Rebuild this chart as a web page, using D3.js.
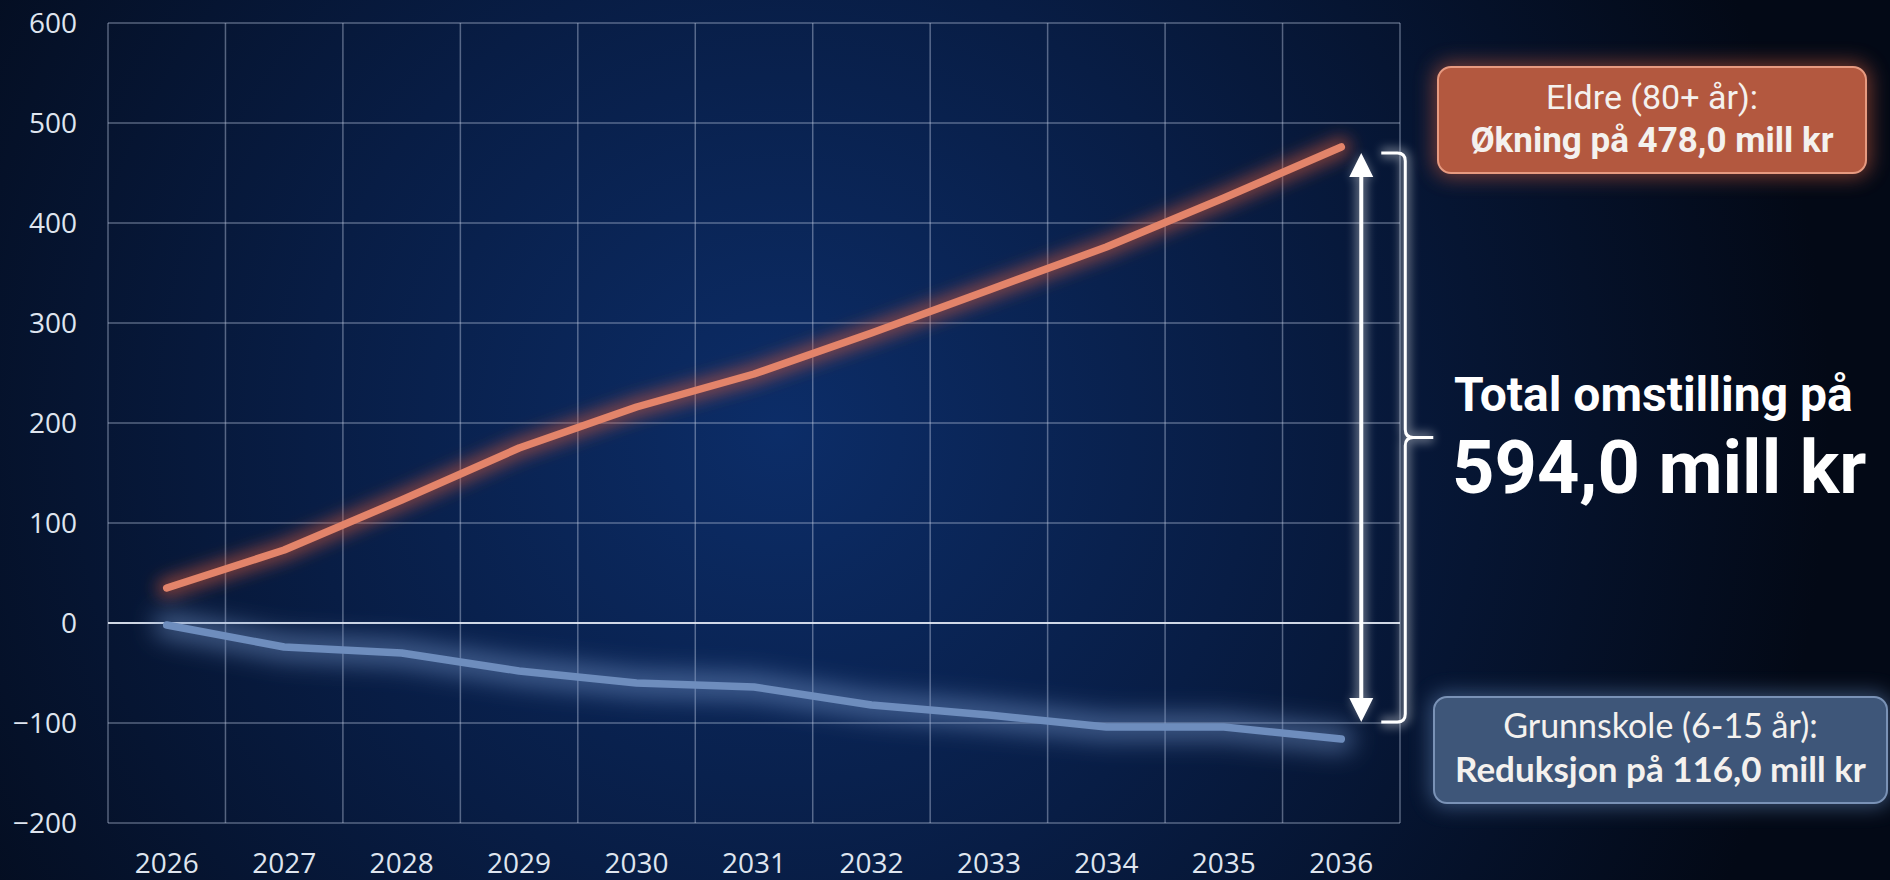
<!DOCTYPE html>
<html>
<head>
<meta charset="utf-8">
<script src="https://cdn.jsdelivr.net/npm/d3@7.9.0/dist/d3.min.js"></script>
<style>
  html, body { margin: 0; padding: 0; background: #040b1c; }
  svg { display: block; }
</style>
</head>
<body>
<svg id="chart" width="1890" height="880"></svg>
<script>
// ====== DATA ======
const years = ["2026", "2027", "2028", "2029", "2030", "2031", "2032", "2033", "2034", "2035", "2036"];
const eldre = [35, 73, 123, 175, 216, 249, 290, 333, 376, 425, 476];
const grunnskole = [-2, -24, -30, -48, -60, -64, -82, -92, -104, -104, -116];
const yTicks = [-200, -100, 0, 100, 200, 300, 400, 500, 600];

const eldreLabel = ["Eldre (80+ år):", "Økning på 478,0 mill kr"];
const grunnLabel = ["Grunnskole (6-15 år):", "Reduksjon på 116,0 mill kr"];
const totalLabel = ["Total omstilling på", "594,0 mill kr"];

const svg = d3.select("#chart");
const W = 1890, H = 880;

// ====== DEFS ======
const defs = svg.append("defs");
const bg = defs.append("radialGradient")
  .attr("id", "bg").attr("gradientUnits", "userSpaceOnUse")
  .attr("cx", 780).attr("cy", 430).attr("r", 1050);
bg.append("stop").attr("offset", "0").attr("stop-color", "#0c2d68");
bg.append("stop").attr("offset", "0.45").attr("stop-color", "#081d45");
bg.append("stop").attr("offset", "1").attr("stop-color", "#030916");

// blur filters cover the whole canvas so thin paths are not clipped
function glow(id, sd) {
  const f = defs.append("filter").attr("id", id)
    .attr("filterUnits", "userSpaceOnUse")
    .attr("x", 0).attr("y", 0).attr("width", W).attr("height", H);
  f.append("feGaussianBlur").attr("stdDeviation", sd);
}
glow("blur8", 8);
glow("blur12", 12);
glow("blur5", 5);
glow("blur10", 10);

svg.append("rect").attr("width", W).attr("height", H).attr("fill", "url(#bg)");

// ====== SCALES ======
const x = d3.scaleBand().domain(years).range([108, 1400]);
const y = d3.scaleLinear().domain([-200, 600]).range([823, 23]);
const cx = (d) => x(d) + x.bandwidth() / 2;

// ====== GRID ======
const grid = svg.append("g");
const vLines = years.map((d) => x(d)).concat([x.range()[1]]);
grid.selectAll("line.v").data(vLines).join("line")
  .attr("x1", (d) => d).attr("x2", (d) => d)
  .attr("y1", y(600)).attr("y2", y(-200))
  .attr("stroke", "#b8c4dc").attr("stroke-opacity", 0.45).attr("stroke-width", 1.5);
grid.selectAll("line.h").data(yTicks).join("line")
  .attr("x1", x.range()[0]).attr("x2", x.range()[1])
  .attr("y1", (d) => y(d)).attr("y2", (d) => y(d))
  .attr("stroke", (d) => d === 0 ? "#e6ecf7" : "#b8c4dc")
  .attr("stroke-opacity", (d) => d === 0 ? 0.9 : 0.45)
  .attr("stroke-width", (d) => d === 0 ? 2 : 1.5);

// ====== AXES ======
const yAxis = svg.append("g").attr("transform", "translate(77,0)")
  .call(d3.axisLeft(y).tickValues(yTicks).tickSize(0).tickPadding(0));
const xAxis = svg.append("g").attr("transform", "translate(0,842)")
  .call(d3.axisBottom(x).tickSize(0).tickPadding(0));
[yAxis, xAxis].forEach((g) => {
  g.select(".domain").remove();
  g.selectAll("text")
    .attr("fill", "#dfe5ef")
    .style("font-family", "'Open Sans', sans-serif")
    .style("font-size", "28px");
});
yAxis.selectAll("text").attr("dy", "0.35em");
xAxis.selectAll("text").attr("dy", "1.1em");

// ====== LINES ======
const line = d3.line().x((d) => cx(d[0])).y((d) => y(d[1]));
const series = [
  { values: eldre, color: "#e3846a", glowColor: "#d65a38", gw: 20, blur: "url(#blur8)" },
  { values: grunnskole, color: "#6e8dbd", glowColor: "#7394c6", gw: 26, blur: "url(#blur12)" }
];
series.forEach((s) => {
  const pts = years.map((yr, i) => [yr, s.values[i]]);
  svg.append("path").attr("d", line(pts))
    .attr("fill", "none").attr("stroke", s.glowColor).attr("stroke-width", s.gw)
    .attr("stroke-opacity", 0.55).attr("stroke-linecap", "round").attr("stroke-linejoin", "round")
    .attr("filter", s.blur);
  svg.append("path").attr("d", line(pts))
    .attr("fill", "none").attr("stroke", s.color).attr("stroke-width", 7.5)
    .attr("stroke-linecap", "round").attr("stroke-linejoin", "round");
});

// ====== ARROW + BRACKET ======
const last = years[years.length - 1];
const ax = cx(last) + 20;
const yTop = y(eldre[eldre.length - 1]) + 6;
const yBot = y(grunnskole[grunnskole.length - 1]) - 17;
const bx = ax + 44;
const yMid = (yTop + yBot) / 2;

const ann = svg.append("g");
function drawAnn(g, strokeW, op, filter) {
  const gg = g.append("g").attr("opacity", op);
  if (filter) gg.attr("filter", filter);
  gg.append("line").attr("x1", ax).attr("x2", ax).attr("y1", yTop + 20).attr("y2", yBot - 20)
    .attr("stroke", "#fff").attr("stroke-width", strokeW);
  gg.append("path").attr("d", `M${ax - 12},${yTop + 24} L${ax},${yTop} L${ax + 12},${yTop + 24} Z`).attr("fill", "#fff");
  gg.append("path").attr("d", `M${ax - 12},${yBot - 24} L${ax},${yBot} L${ax + 12},${yBot - 24} Z`).attr("fill", "#fff");
  gg.append("path")
    .attr("d", `M${ax + 20},${yTop} H${bx - 8} Q${bx},${yTop} ${bx},${yTop + 8} V${yMid - 8} Q${bx},${yMid} ${bx + 8},${yMid} H${bx + 28}
                M${bx + 8},${yMid} Q${bx},${yMid} ${bx},${yMid + 8} V${yBot - 8} Q${bx},${yBot} ${bx - 8},${yBot} H${ax + 20}`)
    .attr("fill", "none").attr("stroke", "#fff").attr("stroke-width", strokeW - 1);
}
drawAnn(ann, 12, 0.35, "url(#blur5)");
drawAnn(ann, 4, 1, null);

// ====== LABEL BOXES ======
function box(x0, y0, w, h, fill, stroke, glowC, lines, font, sizes, weights, baselines) {
  const g = svg.append("g");
  g.append("rect").attr("x", x0 - 4).attr("y", y0 - 4).attr("width", w + 8).attr("height", h + 8)
    .attr("rx", 16).attr("fill", glowC).attr("opacity", 0.6).attr("filter", "url(#blur10)");
  g.append("rect").attr("x", x0).attr("y", y0).attr("width", w).attr("height", h)
    .attr("rx", 13).attr("fill", fill).attr("stroke", stroke).attr("stroke-width", 2);
  lines.forEach((t, i) => {
    g.append("text").attr("x", x0 + w / 2).attr("y", baselines[i])
      .attr("text-anchor", "middle").attr("fill", "#f4f1ee")
      .style("font-family", font).style("font-size", sizes[i] + "px").style("font-weight", weights[i])
      .text(t);
  });
}
box(1438, 67, 428, 106, "#b3583f", "#e79a80", "#c4583a", eldreLabel,
  "Roboto, sans-serif", [34, 35], [400, 700], [109, 152]);
box(1434, 697, 453, 106, "#3e5679", "#7a92b6", "#5a7aa8", grunnLabel,
  "Lato, sans-serif", [34, 35], [400, 700], [738, 782]);

// ====== TOTAL TEXT ======
svg.append("text").attr("x", 1454).attr("y", 411)
  .attr("fill", "#fff").style("font-family", "Roboto, sans-serif")
  .style("font-size", "48px").style("font-weight", 700).text(totalLabel[0]);
svg.append("text").attr("x", 1452).attr("y", 493)
  .attr("fill", "#fff").style("font-family", "Roboto, sans-serif")
  .style("font-size", "74px").style("font-weight", 700).text(totalLabel[1]);
</script>
</body>
</html>
